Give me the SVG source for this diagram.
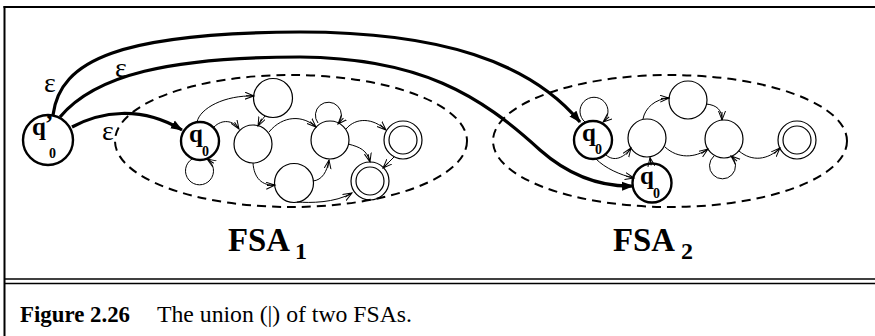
<svg xmlns="http://www.w3.org/2000/svg" width="875" height="336" viewBox="0 0 875 336">
<style>
.st{fill:none;stroke:#000;stroke-width:1.2}
.sb{fill:none;stroke:#000;stroke-width:2.4}
.e{fill:none;stroke:#000;stroke-width:1;marker-end:url(#ah)}
.eps{fill:none;stroke:#000;stroke-width:3.2;marker-end:url(#ahb)}
.ell{fill:none;stroke:#000;stroke-width:2;stroke-dasharray:9 6}
.q{font-family:"Liberation Serif",serif;font-weight:bold;font-size:25px}
.sub{font-family:"Liberation Serif",serif;font-weight:bold;font-size:14px}
.lab{font-family:"Liberation Serif",serif;font-size:28px}
.big{font-family:"Liberation Serif",serif;font-weight:bold;font-size:33px}
.bsub{font-family:"Liberation Serif",serif;font-weight:bold;font-size:24px}
.cap{font-family:"Liberation Serif",serif;font-size:23px}
</style>
<defs>
<marker id="ah" markerUnits="userSpaceOnUse" markerWidth="12" markerHeight="10" refX="9" refY="4" orient="auto">
<path d="M0,0.5 L9,4 L0,7.5 M1,4 L9,4" fill="none" stroke="#000" stroke-width="1"/>
</marker>
<marker id="ahb" markerUnits="userSpaceOnUse" markerWidth="14" markerHeight="12" refX="11" refY="5" orient="auto">
<path d="M0,0.5 L12,5 L0,9.5 Z" fill="#000"/>
</marker>
</defs>
<rect width="875" height="336" fill="#fff"/>
<g id="frame" fill="none" stroke="#000">
<line x1="3.5" y1="7" x2="875" y2="7" stroke-width="2.2"/>
<line x1="4.5" y1="6" x2="4.5" y2="336" stroke-width="2"/>
<line x1="4" y1="279" x2="875" y2="279" stroke-width="1.6"/>
<line x1="4" y1="283.5" x2="875" y2="283.5" stroke-width="1.6"/>
</g>
<g id="fsa1-boundary"><ellipse class="ell" cx="291" cy="141" rx="176" ry="66"/></g>
<g id="fsa2-boundary"><ellipse class="ell" cx="670" cy="141" rx="177" ry="66"/></g>
<g id="connectors">
<path class="eps" d="M53,115 C60,60 120,33 300,32 C440,32 530,62 580,122"/>
<path class="eps" d="M60,117 C95,75 170,57 300,57 C420,58 480,95 540,150 C565,172 595,187 633,186"/>
<path class="eps" d="M72,127 C100,112 140,105 182,130"/>
<path class="e" d="M197,122 C200,108 225,95 254,96"/>
<path class="e" d="M214,127 C222,119 233,120 239,129"/>
<path class="e" d="M265,116 C262,120 260,122 258,126"/>
<path class="e" d="M269,132 C283,115 303,115 316,127"/>
<path class="e" d="M318,123 A13,13 0 1 1 338,124"/>
<path class="e" d="M253,163 C254,178 262,186 275,185"/>
<path class="e" d="M313,181 C322,180 327,172 329,160"/>
<path class="e" d="M297,202 C310,203 335,203 352,193"/>
<path class="e" d="M346,129 C356,117 373,118 386,130"/>
<path class="e" d="M348,144 C360,147 367,150 370,162"/>
<path class="e" d="M394,157 C390,161 387,164 383,168"/>
<path class="e" d="M192,159 A14,14 0 1 0 207,159"/>
<path class="e" d="M585,122 A14,14 0 1 1 603,122"/>
<path class="e" d="M606,155 C614,162 624,158 631,148"/>
<path class="e" d="M596,159 C605,168 620,175 634,178"/>
<path class="e" d="M651,164 L650,157.5"/>
<path class="e" d="M643,119 C645,108 655,99 669,98"/>
<path class="e" d="M706,104 C717,105 722,110 722,120"/>
<path class="e" d="M665,147 C678,159 695,158 708,149"/>
<path class="e" d="M714,156 A13,13 0 1 0 731,156"/>
<path class="e" d="M739,151 C752,162 768,160 780,148"/>
</g>
<g id="eps-labels">
<text class="lab" x="50" y="92" text-anchor="middle">ε</text>
<text class="lab" x="121" y="77" text-anchor="middle">ε</text>
<text class="lab" x="108" y="140" text-anchor="middle">ε</text>
</g>
<g id="q0prime"><circle class="sb" cx="48" cy="140" r="25"/><text class="q" x="32" y="135">q</text><text class="q" x="45" y="132" font-size="20">’</text><text class="sub" x="49" y="158">0</text></g>
<g id="fsa1-q0"><circle class="sb" cx="200" cy="141" r="19"/><text class="q" x="189" y="142">q</text><text class="sub" x="202" y="156">0</text></g>
<g id="fsa1-s1"><circle class="st" cx="273" cy="98" r="19.5"/></g>
<g id="fsa1-s2"><circle class="st" cx="253" cy="144" r="19"/></g>
<g id="fsa1-s3"><circle class="st" cx="294" cy="183" r="19.5"/></g>
<g id="fsa1-s4"><circle class="st" cx="330" cy="140" r="19"/></g>
<g id="fsa1-f1"><circle class="st" cx="403" cy="140" r="19"/><circle class="st" cx="403" cy="140" r="14"/></g>
<g id="fsa1-f2"><circle class="st" cx="370" cy="181" r="19"/><circle class="st" cx="370" cy="181" r="14"/></g>
<g id="fsa2-q0a"><circle class="sb" cx="593" cy="140" r="19"/><text class="q" x="582" y="141">q</text><text class="sub" x="595" y="154">0</text></g>
<g id="fsa2-q0b"><circle class="sb" cx="652" cy="183" r="19.5"/><text class="q" x="640" y="184">q</text><text class="sub" x="653" y="198">0</text></g>
<g id="fsa2-s1"><circle class="st" cx="647" cy="138" r="19"/></g>
<g id="fsa2-s2"><circle class="st" cx="688" cy="100" r="19"/></g>
<g id="fsa2-s3"><circle class="st" cx="724" cy="139" r="19"/></g>
<g id="fsa2-f"><circle class="st" cx="797" cy="140" r="19"/><circle class="st" cx="797" cy="140" r="14"/></g>
<g id="fsa-labels">
<text class="big" x="228" y="251" textLength="62" lengthAdjust="spacingAndGlyphs">FSA</text><text class="bsub" x="295" y="259">1</text>
<text class="big" x="613" y="251" textLength="62" lengthAdjust="spacingAndGlyphs">FSA</text><text class="bsub" x="681" y="259">2</text>
</g>
<g id="caption">
<text class="cap" x="20" y="322" font-weight="bold" textLength="110" lengthAdjust="spacingAndGlyphs">Figure 2.26</text>
<text class="cap" x="157" y="322" textLength="255" lengthAdjust="spacingAndGlyphs">The union (|) of two FSAs.</text>
</g>
</svg>
